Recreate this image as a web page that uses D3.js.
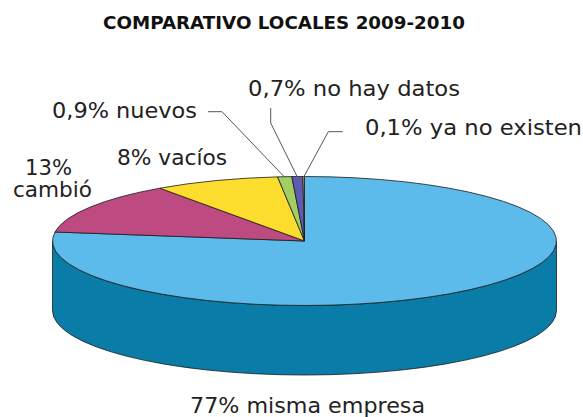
<!DOCTYPE html>
<html><head><meta charset="utf-8">
<script src="https://cdn.jsdelivr.net/npm/d3@7"></script>
<style>body{margin:0;background:#fff}svg{display:block}</style>
</head><body>
<svg id="c" width="583" height="417"></svg>
<script>
const categories = ["misma empresa","cambió","vacíos","nuevos","no hay datos","ya no existen"];
const values = [77, 13, 8, 0.9, 0.7, 0.1];
const labels = ["77% misma empresa","13%\ncambió","8% vacíos","0,9% nuevos","0,7% no hay datos","0,1% ya no existen"];
const topColors = ["#5cbbeb","#be4a82","#fcdd2e","#a2cf62","#5d5cb0","#f2b24e"];
const sideColors = ["#0a7ca8","#8a2f5c","#c9a810","#78a040","#3d3c80","#c08430"];
const title = "COMPARATIVO LOCALES 2009-2010";

const svg = d3.select("#c");
const cx = 304.5, cy = 241, rx = 252, ry = 64.5, depth = 69.5;
const font = "'DejaVu Sans', Verdana, sans-serif";

const pie = d3.pie().sort(null).value(d => d).startAngle(0).endAngle(2*Math.PI);
const arcs = pie(values);
const colorTop = d3.scaleOrdinal().domain(categories).range(topColors);
const colorSide = d3.scaleOrdinal().domain(categories).range(sideColors);

const pt = (a, dy=0) => [cx + rx*Math.sin(a), cy - ry*Math.cos(a) + dy];

// sides (front half)
const sideG = svg.append("g");
arcs.forEach((d, i) => {
  const a0 = Math.max(d.startAngle, Math.PI/2), a1 = Math.min(d.endAngle, 3*Math.PI/2);
  if (a1 <= a0) return;
  const p0 = pt(a0), p1 = pt(a1), q1 = pt(a1, depth), q0 = pt(a0, depth);
  const large = (a1 - a0) > Math.PI ? 1 : 0;
  const path = `M${p0[0]},${p0[1]} A${rx},${ry} 0 ${large} 1 ${p1[0]},${p1[1]} L${q1[0]},${q1[1]} A${rx},${ry} 0 ${large} 0 ${q0[0]},${q0[1]} Z`;
  sideG.append("path").attr("d", path).attr("fill", colorSide(categories[i]))
    .attr("stroke", "#1a1a1a").attr("stroke-width", 0.8).attr("stroke-linejoin","round");
});

// top
const topG = svg.append("g");
arcs.forEach((d, i) => {
  const p0 = pt(d.startAngle), p1 = pt(d.endAngle);
  const large = (d.endAngle - d.startAngle) > Math.PI ? 1 : 0;
  const path = `M${cx},${cy} L${p0[0]},${p0[1]} A${rx},${ry} 0 ${large} 1 ${p1[0]},${p1[1]} Z`;
  topG.append("path").attr("d", path).attr("fill", colorTop(categories[i]))
    .attr("stroke", "#1a1a1a").attr("stroke-width", 0.8).attr("stroke-linejoin","round");
});

// title
svg.append("text").attr("x", 103).attr("y", 29)
  .attr("font-family", font).attr("font-weight","bold").attr("font-size", 18)
  .attr("textLength", 362).attr("lengthAdjust","spacingAndGlyphs")
  .attr("fill","#111").text(title);

// leader lines
const mid = d => (d.startAngle + d.endAngle)/2;
const leaders = [
  {i:3, pts:[[222,111.7],[208,111.7]]},
  {i:4, pts:[[270.7,123],[270.7,108]]},
  {i:5, pts:[[328.3,131.7],[342.7,131.7]]}
];
leaders.forEach(l => {
  const a = pt(mid(arcs[l.i]));
  const pts = [[a[0], a[1]+0.5], ...l.pts];
  svg.append("path").attr("d", d3.line()(pts)).attr("fill","none")
    .attr("stroke","#555").attr("stroke-width",1);
});

const lab = (txt, x, y, w) => svg.append("text").attr("x", x).attr("y", y)
  .attr("font-family", font).attr("font-size", 21)
  .attr("textLength", w).attr("lengthAdjust","spacingAndGlyphs")
  .attr("fill","#222").text(txt);

lab(labels[0], 190, 413, 235);
const l1 = labels[1].split("\n");
lab(l1[0], 25, 175, 47);
lab(l1[1], 13, 197, 79);
lab(labels[2], 117, 165, 110);
lab(labels[3], 52, 118, 145);
lab(labels[4], 248, 96, 212);
lab(labels[5], 365, 135, 217);
</script>
</body></html>
